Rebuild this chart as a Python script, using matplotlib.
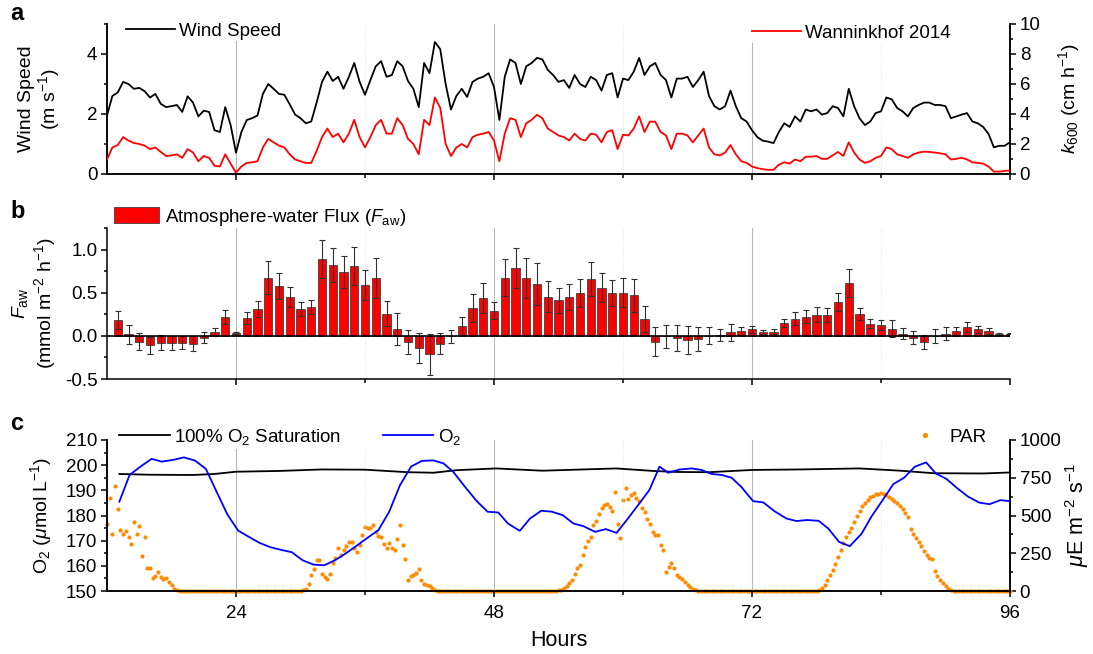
import numpy as np
import matplotlib
matplotlib.use("Agg")
import matplotlib.pyplot as plt
from matplotlib.ticker import MultipleLocator, FixedLocator, NullFormatter
from matplotlib.patches import Patch
from matplotlib.lines import Line2D

plt.rcParams['font.family'] = ['Liberation Sans', 'DejaVu Sans']
plt.rcParams['mathtext.fontset'] = 'custom'
plt.rcParams['mathtext.rm'] = 'Liberation Sans'
plt.rcParams['mathtext.it'] = 'Liberation Sans:italic'
plt.rcParams['mathtext.bf'] = 'Liberation Sans:bold'
plt.rcParams['axes.unicode_minus'] = False

# ---------------- data ----------------
# Panel a: wind speed (m/s) and k600 (cm/h), every 0.5 h from hour 12 to 96
wind_start, wind_step = 12.0, 0.5
wind = [1.95, 2.6, 2.72, 3.07, 3.0, 2.84, 2.87, 2.76, 2.55, 2.67, 2.34, 2.23, 2.26, 2.3, 2.07, 2.59, 2.38, 1.92, 2.11, 2.07,
        1.46, 1.40, 2.23, 1.63, 0.71, 1.40, 1.80, 1.86, 1.95, 2.67, 3.0, 2.84, 2.67, 2.64, 2.32, 1.98, 1.86, 1.69, 1.75, 2.38,
        3.07, 3.41, 3.10, 3.24, 2.84, 3.24, 3.70, 3.07, 2.64, 3.13, 3.59, 3.76, 3.24, 3.30, 3.76, 3.59, 3.10, 2.84, 2.23, 3.70,
        3.36, 4.40, 4.16, 3.00, 2.15, 2.60, 2.84, 2.57, 3.07, 3.18, 3.24, 3.36, 2.90, 1.80, 3.24, 3.82, 3.70, 3.00, 3.59, 3.70,
        3.87, 3.82, 3.47, 3.30, 3.07, 3.13, 2.87, 3.30, 3.00, 2.90, 3.24, 3.13, 2.78, 3.30, 3.36, 2.55, 3.18, 3.13, 3.41, 3.87,
        3.30, 3.59, 3.70, 3.30, 3.13, 2.55, 3.18, 3.18, 3.24, 2.90, 3.13, 3.41, 2.60, 2.26, 2.15, 2.26, 2.78, 2.26, 1.86, 1.75,
        1.46, 1.23, 1.11, 1.08, 1.03, 1.40, 1.69, 1.57, 1.92, 1.75, 2.15, 2.09, 2.15, 1.98, 2.03, 2.26, 2.20, 1.92, 2.84, 2.26,
        1.86, 1.63, 1.75, 2.03, 2.09, 2.55, 2.49, 2.20, 2.09, 1.92, 2.20, 2.30, 2.38, 2.38, 2.30, 2.30, 2.26, 1.86, 1.92, 1.98,
        2.03, 1.75, 1.69, 1.57, 1.34, 0.89, 0.94, 0.94, 1.06]
k600 = [0.97, 1.77, 1.93, 2.46, 2.23, 2.07, 2.0, 1.89, 1.66, 1.77, 1.47, 1.2, 1.24, 1.31, 1.08, 1.66, 1.43, 0.85, 1.2, 1.08,
        0.55, 0.5, 1.31, 0.69, 0.09, 0.5, 0.74, 0.78, 0.85, 1.77, 2.34, 2.11, 1.89, 1.77, 1.31, 0.97, 0.85, 0.74, 0.74, 1.54,
        2.46, 3.03, 2.46, 2.69, 2.11, 2.69, 3.61, 2.46, 1.77, 2.46, 3.26, 3.61, 2.69, 2.69, 3.72, 3.26, 2.34, 2.0, 1.31, 3.61,
        3.26, 5.1, 4.41, 2.0, 1.2, 1.77, 2.0, 1.77, 2.46, 2.62, 2.69, 2.8, 2.23, 0.85, 2.69, 3.72, 3.61, 2.46, 3.38, 3.61,
        3.95, 3.72, 3.03, 2.8, 2.57, 2.46, 2.23, 2.69, 2.34, 2.23, 2.69, 2.62, 2.11, 2.8, 2.92, 1.66, 2.62, 2.57, 3.03, 3.84,
        2.8, 3.49, 3.49, 2.8, 2.57, 1.66, 2.69, 2.69, 2.57, 2.11, 2.57, 3.03, 1.77, 1.31, 1.24, 1.43, 1.93, 1.31, 0.85, 0.74,
        0.5, 0.39, 0.32, 0.28, 0.28, 0.62, 0.78, 0.69, 0.97, 0.85, 1.15, 1.15, 1.2, 1.01, 1.01, 1.24, 1.47, 1.2, 2.11, 1.43,
        0.97, 0.74, 0.85, 1.08, 1.2, 1.77, 1.66, 1.31, 1.2, 1.08, 1.31, 1.43, 1.49, 1.47, 1.43, 1.38, 1.31, 0.97, 1.01, 1.08,
        0.97, 0.78, 0.74, 0.69, 0.5, 0.16, 0.16, 0.21, 0.23]

# Panel b: hourly atmosphere-water flux (mmol m-2 h-1), hours 13..96
flux_first_hour = 13
flux = [0.185, 0.02, -0.066, -0.11, -0.077, -0.08, -0.08, -0.09, -0.023, 0.042, 0.22, 0.035, 0.21, 0.31, 0.675, 0.575,
        0.45, 0.31, 0.33, 0.89, 0.82, 0.74, 0.81, 0.59, 0.67, 0.255, 0.08, -0.07, -0.14, -0.215, -0.09, -0.005, 0.115,
        0.325, 0.44, 0.29, 0.675, 0.79, 0.67, 0.60, 0.455, 0.41, 0.45, 0.50, 0.66, 0.56, 0.50, 0.50, 0.47, 0.20, -0.066,
        -0.005, -0.027, -0.05, -0.04, 0.0, 0.01, 0.04, 0.06, 0.075, 0.045, 0.05, 0.15, 0.20, 0.22, 0.245, 0.245, 0.39,
        0.61, 0.25, 0.14, 0.127, 0.085, 0.027, -0.023, -0.07, 0.0, 0.027, 0.054, 0.104, 0.077, 0.058, 0.023, 0.027]
flux_err = [0.10, 0.11, 0.10, 0.10, 0.085, 0.08, 0.075, 0.085, 0.065, 0.045, 0.08, 0.01, 0.07, 0.09, 0.19, 0.15,
            0.12, 0.08, 0.08, 0.22, 0.20, 0.19, 0.22, 0.17, 0.23, 0.145, 0.19, 0.135, 0.17, 0.24, 0.125, 0.075, 0.10,
            0.16, 0.17, 0.10, 0.21, 0.23, 0.23, 0.24, 0.18, 0.15, 0.15, 0.16, 0.20, 0.17, 0.15, 0.17, 0.19, 0.15, 0.165,
            0.13, 0.15, 0.16, 0.14, 0.10, 0.07, 0.10, 0.045, 0.04, 0.025, 0.025, 0.05, 0.075, 0.075, 0.09, 0.08, 0.105,
            0.165, 0.07, 0.05, 0.055, 0.095, 0.065, 0.077, 0.085, 0.077, 0.07, 0.05, 0.056, 0.04, 0.037, 0.01, 0.01]

# Panel c: dissolved O2 (umol/L)
o2_hours = [13.15, 14.1, 15.1, 16.15, 17.1, 18.15, 19.15, 20.2, 21.2, 22.2, 23.2, 24.2, 25.2, 26.2, 27.2, 28.25, 29.2,
            30.2, 31.2, 32.2, 33.2, 34.2, 35.2, 36.25, 37.25, 38.25, 39.25, 40.3, 41.3, 42.35, 43.3, 44.2, 45.3, 46.4,
            47.4, 48.4, 49.3, 50.4, 51.35, 52.4, 53.4, 54.4, 55.4, 56.3, 57.4, 58.4, 59.4, 60.35, 61.4, 62.45, 63.4,
            64.2, 65.3, 66.4, 67.3, 68.25, 69.2, 70.1, 71.0, 72.1, 73.05, 74.1, 75.2, 76.15, 77.1, 78.2, 79.1, 80.1,
            81.1, 82.2, 83.1, 84.15, 85.15, 86.15, 87.15, 88.2, 89.1, 90.1, 91.1, 92.1, 93.15, 94.1, 95.1, 96.0]
o2 = [185.5, 196.1, 199.4, 202.5, 201.4, 202.1, 203.1, 201.8, 198.5, 189.4, 180.4, 174.0, 171.5, 169.1, 167.4, 166.3,
      165.4, 162.2, 160.5, 160.2, 162.2, 164.9, 167.9, 171.2, 174.2, 181.5, 192.0, 199.5, 201.7, 201.9, 200.7, 197.4,
      191.4, 185.7, 181.5, 181.2, 176.8, 173.9, 178.8, 181.9, 181.5, 180.1, 176.8, 175.8, 173.5, 174.6, 173.1, 178.2,
      184.1, 190.1, 199.4, 197.0, 198.3, 198.7, 198.1, 196.5, 196.1, 195.0, 191.4, 185.7, 185.2, 181.7, 178.8, 177.8,
      178.2, 177.9, 174.8, 169.5, 167.8, 172.8, 179.5, 186.1, 192.5, 195.0, 199.4, 201.1, 196.7, 194.5, 190.8, 187.5,
      185.1, 184.5, 186.1, 185.7]
sat_hours = [13.15, 16, 20, 22, 24, 28, 32, 36, 40, 42.4, 44.5, 48.2, 52.5, 56.3, 59.4, 62.8, 65, 68, 72, 76.5, 82,
             85.8, 88.9, 93.5, 96]
o2_sat = [196.5, 196.2, 196.1, 196.5, 197.4, 197.7, 198.3, 198.2, 197.2, 197.0, 198.0, 198.7, 197.8, 198.3, 198.7,
          197.7, 197.3, 197.2, 198.1, 198.3, 198.7, 197.8, 196.8, 196.7, 197.1]

# PAR (uE m-2 s-1), 15-min readings; zero at night, daylight segments below
par_step = 0.25
par_day1_start, par_day1 = 12.0, [447, 617, 376, 695, 546, 403, 380, 396, 358, 314, 458, 380, 429, 232, 358, 153, 153,
                                  86, 100, 126, 93, 77, 88, 60, 42, 15, 4]
par_day2_start, par_day2 = 30.25, [5, 15, 49, 104, 148, 204, 208, 115, 93, 77, 110, 188, 220, 285, 237, 270, 299, 325,
                                   325, 288, 259, 303, 370, 425, 420, 414, 440, 391, 365, 358, 308, 285, 319, 285, 270,
                                   345, 434, 303, 210, 75, 100, 104, 122, 144, 75, 49, 38, 31, 20, 9, 3]
par_day3_start, par_day3 = 54.0, [5, 9, 20, 31, 55, 75, 110, 150, 175, 240, 290, 330, 360, 436, 465, 510, 550, 570, 573,
                                  557, 530, 657, 442, 352, 600, 683, 608, 635, 646, 617, 595, 551, 520, 480, 447, 392,
                                  369, 369, 303, 270, 126, 159, 186, 153, 104, 93, 77, 60, 42, 27, 15, 4]
par_day4_start, par_day4 = 78.25, [8, 20, 38, 70, 105, 140, 180, 225, 270, 320, 360, 390, 420, 460, 500, 530, 560, 585,
                                   605, 620, 632, 640, 645, 647, 645, 637, 625, 610, 595, 580, 565, 540, 515, 490, 410,
                                   380, 352, 322, 295, 268, 240, 218, 210, 130, 100, 70, 50, 30, 15, 4]

xticks_major = [24, 48, 72, 96]
xticks_minor = [36, 60, 84]

# ---------------- derived positions ----------------
wind_hours = wind_start + wind_step * np.arange(len(wind))
flux_hours = flux_first_hour + np.arange(len(flux))
n_par = int(round((96 - 12) / par_step)) + 1
par_hours = 12 + par_step * np.arange(n_par)
par = np.zeros(n_par)
for st, seg in [(par_day1_start, par_day1), (par_day2_start, par_day2),
                (par_day3_start, par_day3), (par_day4_start, par_day4)]:
    i0 = int(round((st - 12) / par_step))
    par[i0:i0 + len(seg)] = seg

# ---------------- figure ----------------
W, H = 1093, 654
fig = plt.figure(figsize=(W / 100, H / 100), dpi=100)
L = 107 / W
Wd = 903 / W

def frac_rect(top_px, bot_px):
    return [L, 1 - bot_px / H, Wd, (bot_px - top_px) / H]

ax_a = fig.add_axes(frac_rect(24, 174))
ax_b = fig.add_axes(frac_rect(228, 379))
ax_c = fig.add_axes(frac_rect(440, 591))

FS = 13.5
LW_SP = 1.1
GRID_MAJ = dict(color='#b8b8b8', lw=0.8)
GRID_MIN = dict(color='#e2e2e2', lw=0.6, ls=':')

def style_x(ax, labels):
    ax.set_xlim(12, 96)
    ax.xaxis.set_major_locator(FixedLocator(xticks_major))
    ax.xaxis.set_minor_locator(FixedLocator(xticks_minor))
    ax.tick_params(axis='x', which='both', direction='out', length=4, width=LW_SP, labelsize=FS,
                   labelbottom=labels, pad=6)
    ax.tick_params(axis='x', which='minor', length=3)
    for x in xticks_major[:-1]:
        ax.axvline(x, zorder=0, **GRID_MAJ)
    for x in xticks_minor:
        ax.axvline(x, zorder=0, **GRID_MIN)
    ax.spines['top'].set_visible(False)
    for s in ax.spines.values():
        s.set_linewidth(LW_SP)

def style_y(ax, major, minor):
    ax.yaxis.set_major_locator(MultipleLocator(major))
    ax.yaxis.set_minor_locator(MultipleLocator(minor))
    ax.tick_params(axis='y', which='major', direction='out', length=4, width=LW_SP, labelsize=FS, pad=3)
    ax.tick_params(axis='y', which='minor', direction='out', length=2.5, width=LW_SP)

# ---- panel a ----
style_x(ax_a, False)
ax_a.set_ylim(0, 5)
style_y(ax_a, 2, 1)
ax_a.plot(wind_hours, wind, color='black', lw=1.3, zorder=3)
ax_a2 = ax_a.twinx()
ax_a2.set_ylim(0, 10)
ax_a2.set_xlim(12, 96)
style_y(ax_a2, 2, 1)
ax_a2.spines['top'].set_visible(False)
for s in ax_a2.spines.values():
    s.set_linewidth(LW_SP)
ax_a2.plot(wind_hours, k600, color='#ff0000', lw=1.3, zorder=3)
ax_a.set_ylabel('Wind Speed\n(m s$^{-1}$)', fontsize=FS + 0.5, linespacing=1.05)
ax_a.yaxis.set_label_coords((62 - 107) / 903, 0.5)
ax_a2.set_ylabel('$k_{600}$ (cm h$^{-1}$)', fontsize=FS + 0.5)
ax_a2.yaxis.set_label_coords((1056 - 107) / 903, 0.5)
leg1 = ax_a2.legend([Line2D([], [], color='black', lw=1.3)], ['Wind Speed'], loc='center left',
                    bbox_to_anchor=((124 - 107) / 903, (174 - 31) / 150), fontsize=FS, frameon=True,
                    framealpha=1, edgecolor='none', facecolor='white', borderpad=0.1, borderaxespad=0,
                    handlelength=2.6, handletextpad=0.25)
ax_a2.add_artist(leg1)
ax_a2.legend([Line2D([], [], color='#ff0000', lw=1.3)], ['Wanninkhof 2014'], loc='center left',
             bbox_to_anchor=((750 - 107) / 903, (174 - 33) / 150), fontsize=FS, frameon=True,
             framealpha=1, edgecolor='none', facecolor='white', borderpad=0.1, borderaxespad=0,
             handlelength=2.6, handletextpad=0.25)

# ---- panel b ----
style_x(ax_b, False)
ax_b.spines['right'].set_visible(False)
ax_b.set_ylim(-0.5, 1.25)
style_y(ax_b, 0.5, 0.25)
ax_b.yaxis.set_major_formatter(matplotlib.ticker.FormatStrFormatter('%.1f'))
ax_b.bar(flux_hours, flux, width=0.78, color='#ff0000', edgecolor='#404040', linewidth=0.6, zorder=3,
         yerr=flux_err, error_kw=dict(ecolor='#303030', elinewidth=0.8, capsize=2.5, capthick=0.8, zorder=4))
ax_b.axhline(0, color='black', lw=1.2, zorder=5)
ax_b.set_ylabel('$F_{\\mathrm{aw}}$\n(mmol m$^{-2}$ h$^{-1}$)', fontsize=FS + 0.5, linespacing=1.1)
ax_b.yaxis.set_label_coords((58 - 107) / 903, 0.5)
ax_b.legend([Patch(facecolor='#ff0000', edgecolor='#404040', lw=0.6)],
            ['Atmosphere-water Flux ($F_{\\mathrm{aw}}$)'], loc='center left',
            bbox_to_anchor=((114 - 107) / 903, (379 - 217) / 151), fontsize=FS, frameon=False,
            borderpad=0, borderaxespad=0, handlelength=2.4, handleheight=1.0, handletextpad=0.3)

# ---- panel c ----
style_x(ax_c, True)
ax_c.set_ylim(150, 210)
style_y(ax_c, 10, 5)
ax_c2 = ax_c.twinx()
ax_c2.set_xlim(12, 96)
ax_c2.set_ylim(0, 1000)
style_y(ax_c2, 250, 125)
ax_c2.spines['top'].set_visible(False)
for s in ax_c2.spines.values():
    s.set_linewidth(LW_SP)
ax_c2.plot(par_hours, par, ls='none', marker='o', ms=3.0, mew=0, color='#ff8c00', clip_on=False, zorder=2)
ax_c.set_zorder(ax_c2.get_zorder() + 1)
ax_c.patch.set_visible(False)
ax_c.plot(sat_hours, o2_sat, color='black', lw=1.3, zorder=3)
ax_c.plot(o2_hours, o2, color='#0000ff', lw=1.3, zorder=3)
ax_c.set_ylabel('O$_2$ ($\\mu$mol L$^{-1}$)', fontsize=FS + 0.5)
ax_c.yaxis.set_label_coords((54 - 107) / 903, 0.5)
ax_c2.set_ylabel('$\\mu$E m$^{-2}$ s$^{-1}$', fontsize=FS + 2)
ax_c2.yaxis.set_label_coords((1063 - 107) / 903, 0.5)
ax_c.legend([Line2D([], [], color='black', lw=1.3), Line2D([], [], color='#0000ff', lw=1.3)],
            ['100% O$_2$ Saturation', 'O$_2$'], loc='center left', ncol=2,
            bbox_to_anchor=((117 - 107) / 903, (591 - 437) / 151), fontsize=FS, frameon=True,
            framealpha=1, edgecolor='none', facecolor='white', borderpad=0.1, borderaxespad=0,
            handlelength=2.7, handletextpad=0.25, columnspacing=2.2)
ax_c2.legend([Line2D([], [], ls='none', marker='o', ms=3.8, mew=0, color='#ff8c00')], ['PAR'],
             loc='center left', bbox_to_anchor=((908 - 107) / 903, (591 - 437) / 151), fontsize=FS,
             frameon=False, borderpad=0, borderaxespad=0, handlelength=1.8, handletextpad=0.4)

fig.text((107 + 1010) / 2 / W, 1 - 640 / H, 'Hours', ha='center', va='center', fontsize=15.5)
for lab, ypx in [('a', 14), ('b', 212), ('c', 424)]:
    fig.text(10 / W, 1 - ypx / H, lab, ha='left', va='center', fontsize=17, fontweight='bold')

fig.savefig('out.png', dpi=100, facecolor='white')
